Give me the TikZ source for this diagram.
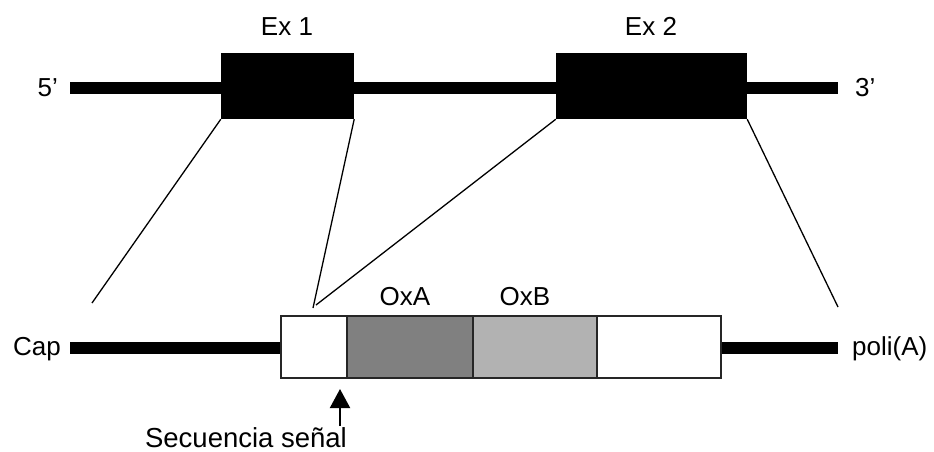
\documentclass[tikz,border=0pt]{standalone}
\usepackage{fontspec}
\setmainfont{Liberation Sans}
\usetikzlibrary{arrows.meta}
\begin{document}
\begin{tikzpicture}[x=1pt,y=-1pt,
  lbl/.style={inner sep=0pt,font=\fontsize{26}{31}\selectfont},
  exonbox/.style={draw=none,fill=black,inner sep=0pt,rectangle},
  segbox/.style={draw=black!85,line width=2pt,inner sep=0pt,rectangle,minimum height=62pt},
  strand/.style={line width=12pt},
  zoomline/.style={line width=1.3pt},
  sigarrow/.style={line width=2pt,-{Triangle[length=19pt,width=20pt]}}]
\useasboundingbox (0,0) rectangle (934,451);
% top strand
\coordinate (t5) at (70,88);
\coordinate (t3) at (838,88);
\draw[strand] (t5) -- (t3);
\node[exonbox,minimum width=133pt,minimum height=66pt] (ex1) at (287.5,86) {};
\node[exonbox,minimum width=191pt,minimum height=66pt] (ex2) at (651.5,86) {};
\node[lbl,anchor=base] (lex1) at (287,35) {Ex 1};
\node[lbl,anchor=base] (lex2) at (651,35) {Ex 2};
\node[lbl,anchor=base east] (l5) at (58,96) {5’};
\node[lbl,anchor=base west] (l3) at (855,96) {3’};
% bottom strand
\coordinate (bc) at (70,348);
\coordinate (bp) at (838,348);
\draw[strand] (bc) -- (bp);
\node[segbox,fill=white,minimum width=66pt] (sig) at (314,347) {};
\node[segbox,fill=black!50,minimum width=126pt] (oxa) at (410,347) {};
\node[segbox,fill=black!30,minimum width=124pt] (oxb) at (535,347) {};
\node[segbox,fill=white,minimum width=124pt] (utr) at (659,347) {};
\node[lbl,anchor=base] (loxa) at (405,305) {OxA};
\node[lbl,anchor=base] (loxb) at (525,305) {OxB};
\node[lbl,anchor=base east] (lcap) at (61,355) {Cap};
\node[lbl,anchor=base west] (lpoli) at (852,355) {poli(A)};
% zoom lines
\coordinate (z1) at (92,303);
\coordinate (z2) at (313,308);
\coordinate (z3) at (316,305);
\coordinate (z4) at (838,307);
\draw[zoomline] (ex1.south west) -- (z1);
\draw[zoomline] (ex1.south east) -- (z2);
\draw[zoomline] (ex2.south west) -- (z3);
\draw[zoomline] (ex2.south east) -- (z4);
% signal arrow
\node[lbl,anchor=base,font=\fontsize{27.5}{32}\selectfont] (lsig) at (246,447) {Secuencia señal};
\coordinate (atail) at (340,426);
\coordinate (ahead) at (340,389);
\draw[sigarrow] (atail) -- (ahead);
\end{tikzpicture}
\end{document}
